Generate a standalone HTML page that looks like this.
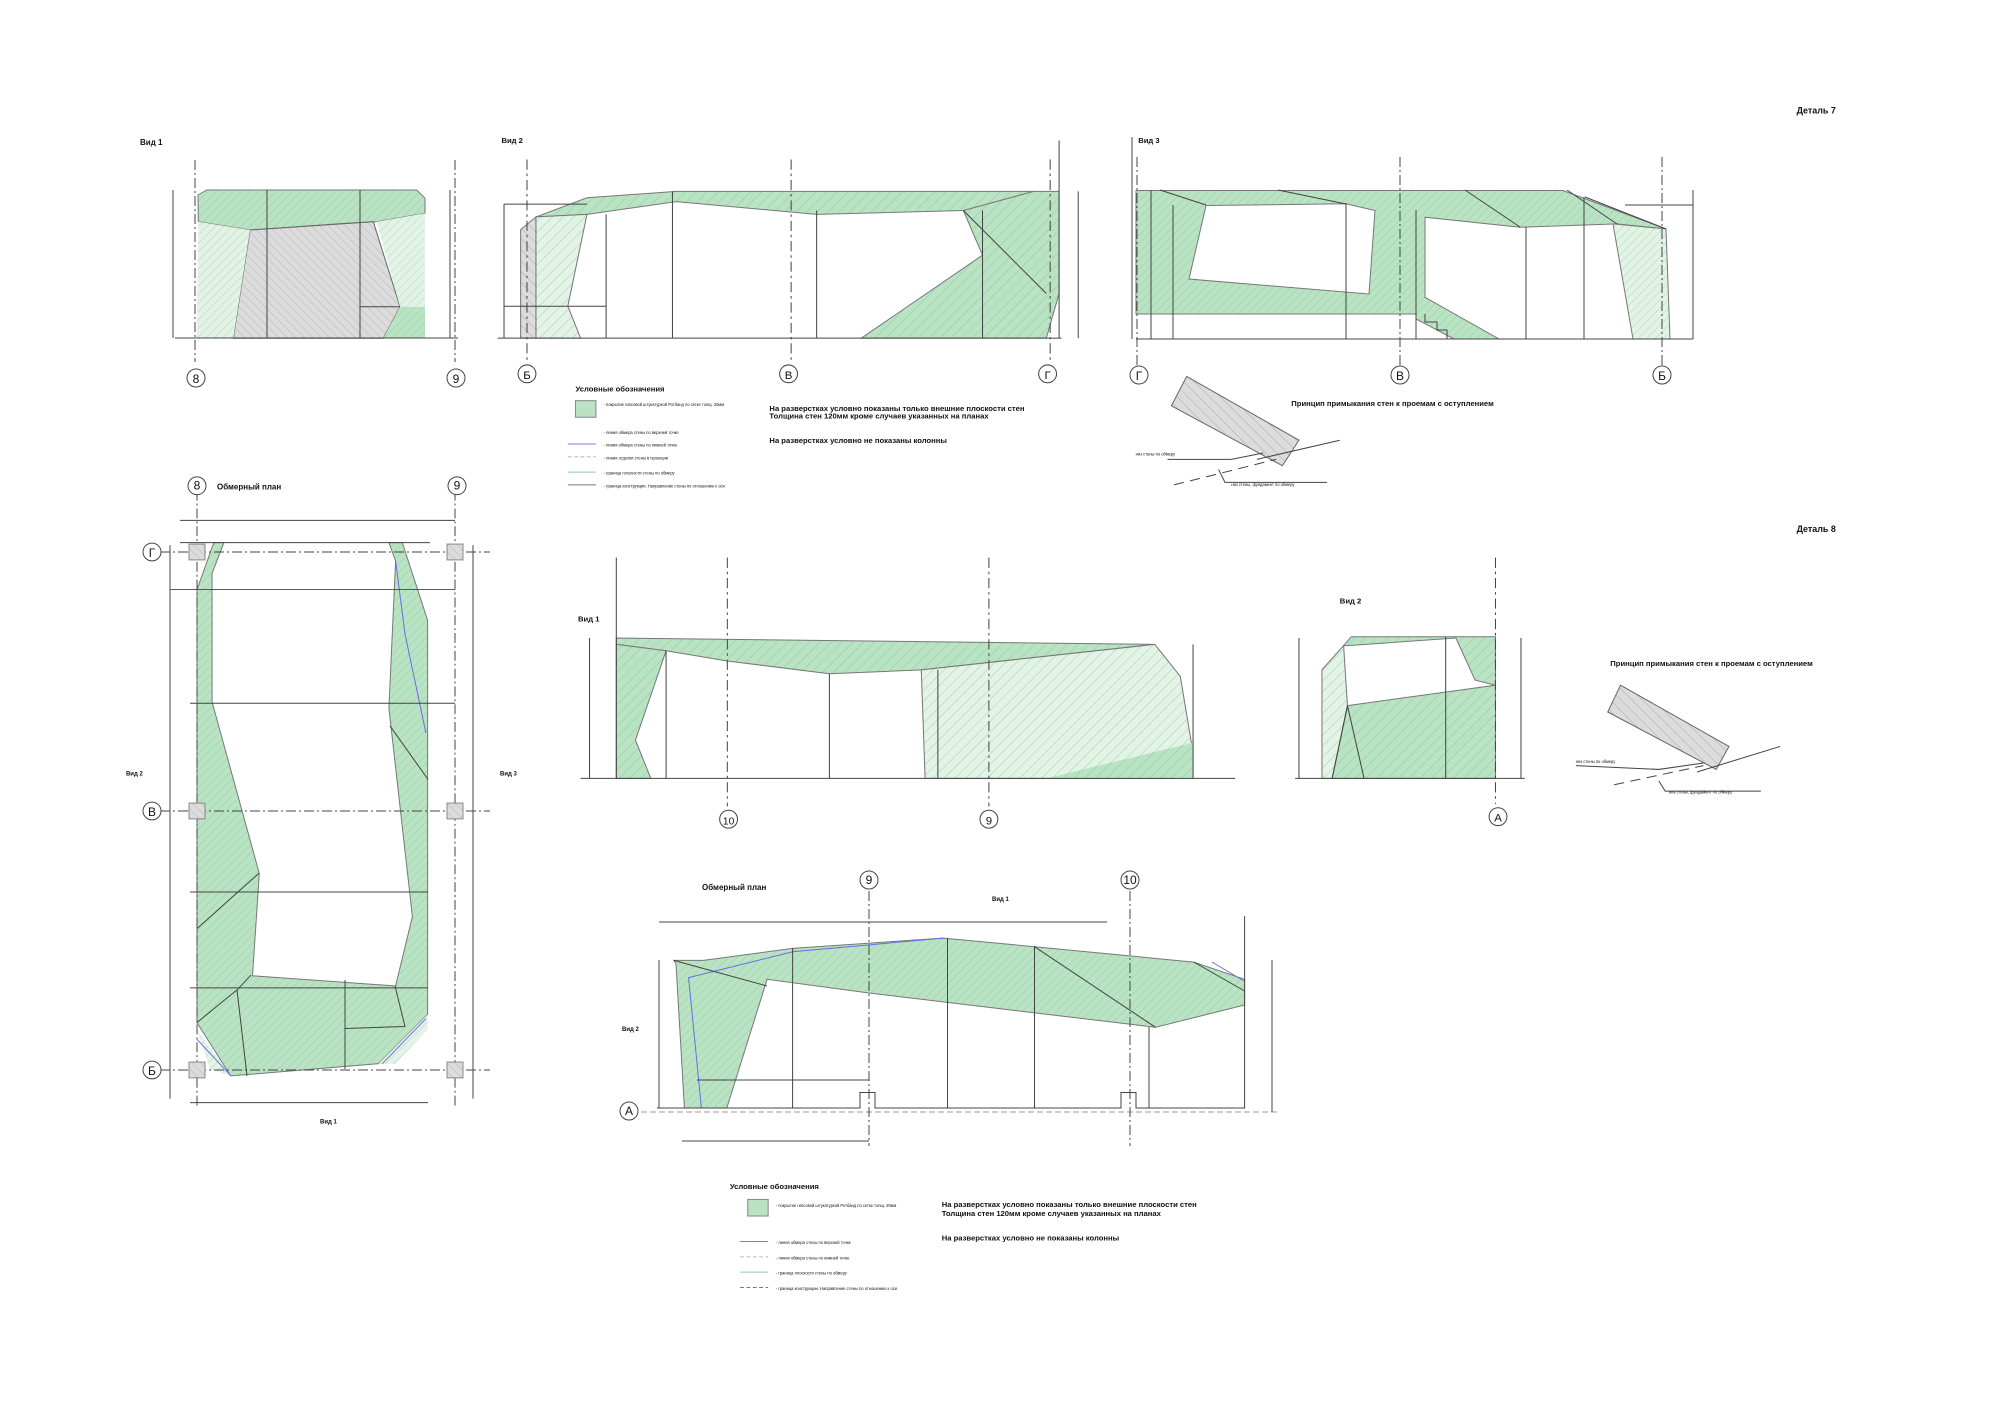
<!DOCTYPE html>
<html><head><meta charset="utf-8"><style>
html,body{margin:0;padding:0;background:#fff}
svg{display:block}
text{font-family:"Liberation Sans",sans-serif;fill:#111}
</style></head><body>
<svg width="2000" height="1415" viewBox="0 0 2000 1415" xmlns="http://www.w3.org/2000/svg">
<defs>
<pattern id="hg" width="6" height="6" patternUnits="userSpaceOnUse" patternTransform="rotate(45)">
<rect width="6" height="6" fill="#b9e3c3"/><line x1="0" y1="0" x2="0" y2="6" stroke="#a3d6af" stroke-width="1.5"/></pattern>
<pattern id="hl" width="6" height="6" patternUnits="userSpaceOnUse" patternTransform="rotate(45)">
<rect width="6" height="6" fill="#e3f3e6"/><line x1="0" y1="0" x2="0" y2="6" stroke="#bfe2c7" stroke-width="1.5"/></pattern>
<pattern id="hgr" width="6" height="6" patternUnits="userSpaceOnUse" patternTransform="rotate(-45)">
<rect width="6" height="6" fill="#dcdcdc"/><line x1="0" y1="0" x2="0" y2="6" stroke="#c2c2c2" stroke-width="1.5"/></pattern>
</defs>
<g stroke="#444" stroke-width="1" fill="none">

<!-- ===== Detail 7 View 1 ===== -->
<polygon points="206.7,190 416.7,190 425,198.3 425,213.3 376.7,221.7 346.7,223.3 250,230 198.3,221.7 198,195" fill="url(#hg)" stroke="#777"/>
<polygon points="250,230 373.3,221.7 400,306.7 383.3,338.3 233.3,338.3" fill="url(#hgr)" stroke="#666"/>
<polygon points="198.3,221.7 250,230 233.3,338.3 196.7,338.3" fill="url(#hl)" stroke="none"/>
<polygon points="376.7,221.7 425,213.3 425,306.7 400,306.7" fill="url(#hl)" stroke="none"/>
<polygon points="400,306.7 425,306.7 425,338 383.3,338.3" fill="url(#hg)" stroke="none"/>
<line x1="267" y1="190" x2="267" y2="338"/><line x1="360" y1="190" x2="360" y2="338"/>
<line x1="360" y1="306.7" x2="400" y2="306.7"/>
<line x1="175" y1="338" x2="458" y2="338"/>
<line x1="173" y1="190" x2="173" y2="338"/><line x1="450" y1="190" x2="450" y2="338"/>
<line x1="195" y1="160" x2="195" y2="362" stroke-dasharray="10,3,2,3"/>
<line x1="455" y1="160" x2="455" y2="362" stroke-dasharray="10,3,2,3"/>
<circle cx="196" cy="378" r="9" fill="#fff"/><circle cx="456" cy="378" r="9" fill="#fff"/>
</g>
<text x="196" y="383" font-size="12" text-anchor="middle">8</text>
<text x="456" y="383" font-size="12" text-anchor="middle">9</text>
<text x="140" y="145" font-size="8" font-weight="bold">Вид 1</text>

<!-- ===== scaled groups in displayed coords ===== -->
<g transform="scale(1.276)">
<g stroke="#444" stroke-width="0.8" fill="none">
<!-- Detail 7 View 2 -->
<polygon points="420,170 460,155 530,150 810,150 810,160 755,165 640,168 530,158 460,168" fill="url(#hg)" stroke="#777"/>
<polygon points="755,165 810,150 830,150 830,230 820,265 675,265 770,200" fill="url(#hg)" stroke="#777"/>
<polygon points="420,170 460,168 445,240 455,265 420,265" fill="url(#hl)" stroke="#777"/>
<polygon points="408,180 420,170 420,265 408,265" fill="url(#hgr)" stroke="#777"/>
<line x1="390" y1="265" x2="832" y2="265"/>
<line x1="475" y1="168" x2="475" y2="265"/><line x1="527" y1="150" x2="527" y2="265"/>
<line x1="640" y1="165" x2="640" y2="265"/><line x1="770" y1="165" x2="770" y2="265"/>
<line x1="395" y1="160" x2="395" y2="265"/><line x1="845" y1="150" x2="845" y2="265"/>
<line x1="395" y1="240" x2="475" y2="240"/><line x1="395" y1="160" x2="460" y2="160"/>
<line x1="755" y1="165" x2="820" y2="230"/>
<line x1="830" y1="110" x2="830" y2="265"/>
<line x1="413" y1="125" x2="413" y2="285" stroke-dasharray="8,3,2,3"/>
<line x1="620" y1="125" x2="620" y2="285" stroke-dasharray="8,3,2,3"/>
<line x1="823" y1="125" x2="823" y2="285" stroke-dasharray="8,3,2,3"/>
<circle cx="413" cy="293" r="7" fill="#fff"/><circle cx="618" cy="293" r="7" fill="#fff"/><circle cx="821" cy="293" r="7" fill="#fff"/>

<!-- Detail 8 View 1 -->
<polygon points="483,500 905,505 722,525 650,528 570,518 522,510 483,505" fill="url(#hg)" stroke="#777"/>
<polygon points="722,525 905,505 925,530 935,590 920,610 725,610" fill="url(#hl)" stroke="#777"/>
<polygon points="820,610 935,582 935,610" fill="url(#hg)" stroke="none"/>
<polygon points="483,505 522,510 498,580 510,610 483,610" fill="url(#hg)" stroke="#777"/>
<line x1="455" y1="610" x2="968" y2="610"/>
<line x1="522" y1="510" x2="522" y2="610"/><line x1="650" y1="528" x2="650" y2="610"/><line x1="735" y1="525" x2="735" y2="610"/>
<line x1="462" y1="500" x2="462" y2="610"/><line x1="935" y1="505" x2="935" y2="610"/>
<line x1="483" y1="437" x2="483" y2="610"/>
<line x1="570" y1="437" x2="570" y2="632" stroke-dasharray="8,3,2,3"/>
<line x1="775" y1="437" x2="775" y2="632" stroke-dasharray="8,3,2,3"/>
<circle cx="571" cy="642" r="7" fill="#fff"/><circle cx="775" cy="642" r="7" fill="#fff"/>

<!-- Detail 8 View 2 -->
<polygon points="1053,506 1059,499 1172,499 1172,537 1156,533 1141,500 1056,506" fill="url(#hg)" stroke="#777"/>
<polygon points="1056,553 1172,537 1172,610 1044,610" fill="url(#hg)" stroke="#777"/>
<polygon points="1036,525 1053,506 1056,553 1044,610 1036,610" fill="url(#hl)" stroke="#777"/>
<polyline points="1044,610 1056,553 1069,610"/>
<line x1="1133" y1="499" x2="1133" y2="610"/>
<line x1="1015" y1="610" x2="1195" y2="610"/>
<line x1="1018" y1="500" x2="1018" y2="610"/><line x1="1192" y1="500" x2="1192" y2="610"/>
<line x1="1172" y1="437" x2="1172" y2="630" stroke-dasharray="8,3,2,3"/>
<circle cx="1174" cy="640" r="7" fill="#fff"/>

<!-- section sketch 7 -->
<polygon points="930,295 1018,345 1005,365 918,318" fill="url(#hgr)" stroke="#666"/>
<line x1="985" y1="360" x2="1050" y2="345"/>
<line x1="920" y1="380" x2="1000" y2="360" stroke-dasharray="8,5"/>
<polyline points="990,355 965,360 915,360"/>
<polyline points="955,368 960,378 1040,378"/>
<!-- section sketch 8 -->
<polygon points="1270,537 1355,585 1345,603 1260,558" fill="url(#hgr)" stroke="#666"/>
<line x1="1330" y1="605" x2="1395" y2="585"/>
<line x1="1265" y1="615" x2="1335" y2="600" stroke-dasharray="8,5"/>
<polyline points="1335,598 1300,603 1235,600"/>
<polyline points="1300,612 1305,620 1380,620"/>

<!-- legend 1 -->
<rect x="451" y="314" width="16" height="13" fill="#b9e3c3" stroke="#888"/>
<line x1="445" y1="348" x2="467" y2="348" stroke="#7a7aee"/>
<line x1="445" y1="358" x2="467" y2="358" stroke="#bbb" stroke-dasharray="3,2"/>
<line x1="445" y1="370" x2="467" y2="370" stroke="#8ad49a"/>
<line x1="445" y1="380" x2="467" y2="380" stroke="#777"/>
<!-- legend 2 -->
<rect x="586" y="940" width="16" height="13" fill="#b9e3c3" stroke="#888"/>
<line x1="580" y1="973" x2="602" y2="973" stroke="#7a7aee"/>
<line x1="580" y1="985" x2="602" y2="985" stroke="#bbb" stroke-dasharray="3,2"/>
<line x1="580" y1="997" x2="602" y2="997" stroke="#8ad49a"/>
<line x1="580" y1="1009" x2="602" y2="1009" stroke="#777" stroke-dasharray="3,2"/>
</g>
<g font-size="9" text-anchor="middle">
<text x="413" y="297">Б</text><text x="618" y="297">В</text><text x="821" y="297">Г</text>
<text x="571" y="646" font-size="8">10</text><text x="775" y="646">9</text><text x="1174" y="644">А</text>
</g>
<g font-size="6" font-weight="bold">
<text x="393" y="112">Вид 2</text><text x="892" y="112">Вид 3</text>
<text x="1408" y="89" font-size="7">Деталь 7</text><text x="1408" y="417" font-size="7">Деталь 8</text>
<text x="453" y="487">Вид 1</text><text x="1050" y="473">Вид 2</text>
<text x="1012" y="318">Принцип примыкания стен к проемам с оступлением</text>
<text x="1262" y="522">Принцип примыкания стен к проемам с оступлением</text>
<text x="451" y="307">Условные обозначения</text><text x="572" y="932">Условные обозначения</text>
<text x="603" y="322">На разверстках условно показаны только внешние плоскости стен</text>
<text x="603" y="328">Толщина стен 120мм кроме случаев указанных на планах</text>
<text x="603" y="347">На разверстках условно не показаны колонны</text>
<text x="738" y="946">На разверстках условно показаны только внешние плоскости стен</text>
<text x="738" y="953">Толщина стен 120мм кроме случаев указанных на планах</text>
<text x="738" y="972">На разверстках условно не показаны колонны</text>
</g>
<g font-size="3.2">
<text x="473" y="318">- покрытие гипсовой штукатуркой Ротбанд по сетке толщ. 20мм</text>
<text x="473" y="340">- линия обмера стены по верхней точке</text>
<text x="473" y="350">- линия обмера стены по нижней точке</text>
<text x="473" y="360">- линия отделки стены в проекции</text>
<text x="473" y="372">- граница плоскости стены по обмеру</text>
<text x="473" y="382">- граница конструкции. Направление стены по отношению к оси</text>
<text x="608" y="946">- покрытие гипсовой штукатуркой Ротбанд по сетке толщ. 20мм</text>
<text x="608" y="975">- линия обмера стены по верхней точке</text>
<text x="608" y="987">- линия обмера стены по нижней точке</text>
<text x="608" y="999">- граница плоскости стены по обмеру</text>
<text x="608" y="1011">- граница конструкции. Направление стены по отношению к оси</text>
<text x="890" y="357">низ стены по обмеру</text><text x="965" y="381">низ стены, фундамент по обмеру</text>
<text x="1235" y="598">низ стены по обмеру</text><text x="1308" y="622">низ стены, фундамент по обмеру</text>
</g>
</g>

<!-- ===== Detail 7 View 3 ===== -->
<g transform="translate(-15,-3)">
<g stroke="#444" stroke-width="1" fill="none">
<path d="M1151,193.5 L1578,193.5 L1681,231.9 L1632,226.9 L1535,230.2 L1440,220.2 L1440,300.3 L1514,342 L1469,342 L1431,322 L1431,317 L1151,317 Z M1221,208.5 L1361,206.8 L1390,213.5 L1384,297 L1204,282 Z" fill="url(#hg)" fill-rule="evenodd" stroke="#777"/>
<polygon points="1628,226.9 1681,231.9 1685,342 1648,342" fill="url(#hl)" stroke="#777"/>
<line x1="1151" y1="342" x2="1708" y2="342"/>
<line x1="1166" y1="193" x2="1166" y2="342"/><line x1="1188" y1="208" x2="1188" y2="342"/>
<line x1="1361" y1="206" x2="1361" y2="342"/><line x1="1431" y1="213" x2="1431" y2="342"/>
<line x1="1541" y1="230" x2="1541" y2="342"/><line x1="1599" y1="200" x2="1599" y2="342"/>
<line x1="1708" y1="193" x2="1708" y2="342"/><line x1="1640" y1="208" x2="1708" y2="208"/>
<line x1="1175" y1="193" x2="1221" y2="208"/><line x1="1293" y1="193" x2="1361" y2="207"/>
<line x1="1480" y1="193" x2="1535" y2="230"/><line x1="1582" y1="193" x2="1632" y2="227"/>
<line x1="1600" y1="200" x2="1681" y2="232"/>
<polyline points="1440,317 1440,325 1452,325 1452,333 1462,333 1462,342"/>
<line x1="1147" y1="140" x2="1147" y2="342"/>
<line x1="1152" y1="160" x2="1152" y2="368" stroke-dasharray="10,3,2,3"/>
<line x1="1415" y1="160" x2="1415" y2="368" stroke-dasharray="10,3,2,3"/>
<line x1="1677" y1="160" x2="1677" y2="368" stroke-dasharray="10,3,2,3"/>
<circle cx="1154" cy="378" r="9" fill="#fff"/><circle cx="1415" cy="378" r="9" fill="#fff"/><circle cx="1677" cy="378" r="9" fill="#fff"/>
</g>
<g font-size="12" text-anchor="middle">
<text x="1154" y="383">Г</text><text x="1415" y="383">В</text><text x="1677" y="383">Б</text>
</g>
</g>

<!-- ===== Plan left ===== -->
<g transform="matrix(1,0,0,0.9885,0,1.4)">
<g stroke="#444" stroke-width="1" fill="none">
<path d="M213.8,547.5 L223.9,547.5 L212.1,578.5 L212.1,708.7 L259.3,882.3 L252.5,985.7 L395.6,996 L412.4,925.7 L388.9,714.9 L395.6,566.1 L388.9,547.5 L402.3,547.5 L427.6,626 L427.6,1025 L378.8,1074.6 L230.7,1087 L197,1033.2 L197,595 Z" fill="url(#hg)" stroke="#777"/>
<polygon points="197,1040 230.7,1087 210,1080" fill="url(#hl)" stroke="none"/>
<polygon points="378.8,1074.6 427.6,1025 427.6,1040 395,1075" fill="url(#hl)" stroke="none"/>
<line x1="197" y1="1050" x2="231" y2="1087" stroke="#6b6be8"/>
<line x1="382" y1="1075" x2="426" y2="1029" stroke="#6b6be8"/>
<polyline points="395.6,566 405,640 425.9,740" stroke="#6b6be8"/>
<polyline points="197,1033 237,1000 251,985"/><line x1="237" y1="1000" x2="247" y2="1087"/>
<line x1="345" y1="990" x2="345" y2="1080"/><polyline points="395,996 405,1037 345,1039"/>
<line x1="197" y1="938" x2="259" y2="882"/><line x1="390" y1="733" x2="428" y2="787"/>
<line x1="180" y1="525" x2="455" y2="525"/><line x1="180" y1="547.5" x2="430" y2="547.5"/>
<line x1="170" y1="595" x2="455" y2="595"/><line x1="190" y1="710" x2="455" y2="710"/>
<line x1="190" y1="901" x2="428" y2="901"/><line x1="190" y1="998" x2="428" y2="998"/>
<line x1="190" y1="1114" x2="428" y2="1114"/>
<line x1="170" y1="550" x2="170" y2="1110"/><line x1="473" y1="550" x2="473" y2="1110"/>
<line x1="197" y1="495" x2="197" y2="1120" stroke-dasharray="10,3,2,3"/>
<line x1="455" y1="495" x2="455" y2="1120" stroke-dasharray="10,3,2,3"/>
<line x1="160" y1="557" x2="490" y2="557" stroke-dasharray="10,3,2,3"/>
<line x1="160" y1="819" x2="490" y2="819" stroke-dasharray="10,3,2,3"/>
<line x1="160" y1="1081" x2="490" y2="1081" stroke-dasharray="10,3,2,3"/>
<g fill="url(#hgr)" stroke="#888">
<rect x="189" y="549" width="16" height="16"/><rect x="447" y="549" width="16" height="16"/>
<rect x="189" y="811" width="16" height="16"/><rect x="447" y="811" width="16" height="16"/>
<rect x="189" y="1073" width="16" height="16"/><rect x="447" y="1073" width="16" height="16"/></g>
<circle cx="152" cy="557" r="9" fill="#fff"/><circle cx="152" cy="819" r="9" fill="#fff"/><circle cx="152" cy="1081" r="9" fill="#fff"/>
<circle cx="197" cy="490" r="9" fill="#fff"/><circle cx="457" cy="490" r="9" fill="#fff"/>
</g>
<g font-size="12" text-anchor="middle">
<text x="152" y="562">Г</text><text x="152" y="824">В</text><text x="152" y="1086">Б</text>
<text x="197" y="494">8</text><text x="457" y="494">9</text>
</g>
<g font-size="6" font-weight="bold">
<text x="217" y="494" font-size="8">Обмерный план</text>
<text x="126" y="783">Вид 2</text><text x="500" y="783">Вид 3</text>
<text x="320" y="1135">Вид 1</text>
</g>
</g>

<!-- ===== Bottom plan ===== -->
<g transform="translate(-8,-4)">
<g stroke="#444" stroke-width="1" fill="none">
<polygon points="681.8,964.4 711.5,964.4 800.6,952.4 951.3,942.1 1042.5,950.7 1201.7,966.1 1252.6,983.3 1252.6,1009 1163.5,1031.3 877,997 775.1,983.3 734.8,1112 692.4,1112 684,967.8" fill="url(#hg)" stroke="#777"/>
<polyline points="709.4,1112 696.6,981.6 800.6,955.8 951.3,942.1" stroke="#6b6be8"/>
<line x1="1220" y1="966" x2="1252" y2="985" stroke="#6b6be8"/>
<line x1="1042.5" y1="950.7" x2="1163.5" y2="1031.3"/><line x1="1201.7" y1="966" x2="1252.6" y2="995"/>
<line x1="681.8" y1="964.4" x2="775" y2="990"/>
<polyline points="665,1112 868,1112 868,1096.5 883,1096.5 883,1112 1129,1112 1129,1096.5 1144,1096.5 1144,1112 1253,1112"/>
<line x1="640" y1="1116" x2="1285" y2="1116" stroke-dasharray="6,3" stroke="#999"/>
<line x1="800.6" y1="952" x2="800.6" y2="1112"/><line x1="955.5" y1="942" x2="955.5" y2="1112"/>
<line x1="1042.5" y1="950" x2="1042.5" y2="1112"/><line x1="1157" y1="1031" x2="1157" y2="1112"/>
<line x1="1252.6" y1="920" x2="1252.6" y2="1112"/>
<line x1="667" y1="926" x2="1115" y2="926"/>
<line x1="667" y1="964" x2="667" y2="1112"/><line x1="1280" y1="964" x2="1280" y2="1116"/>
<line x1="705" y1="1084" x2="877" y2="1084"/><line x1="690" y1="1145" x2="877" y2="1145"/>
<line x1="877" y1="895" x2="877" y2="1150" stroke-dasharray="10,3,2,3"/>
<line x1="1138" y1="895" x2="1138" y2="1150" stroke-dasharray="10,3,2,3"/>
<circle cx="877" cy="884" r="9" fill="#fff"/><circle cx="1138" cy="884" r="9" fill="#fff"/>
<circle cx="637" cy="1115" r="9" fill="#fff"/>
</g>
<g font-size="12" text-anchor="middle">
<text x="877" y="888">9</text><text x="1138" y="888">10</text><text x="637" y="1119">А</text>
</g>
<g font-size="6" font-weight="bold">
<text x="710" y="894" font-size="8">Обмерный план</text>
<text x="630" y="1035">Вид 2</text><text x="1000" y="905">Вид 1</text>
</g>
</g>
</svg>
</body></html>
